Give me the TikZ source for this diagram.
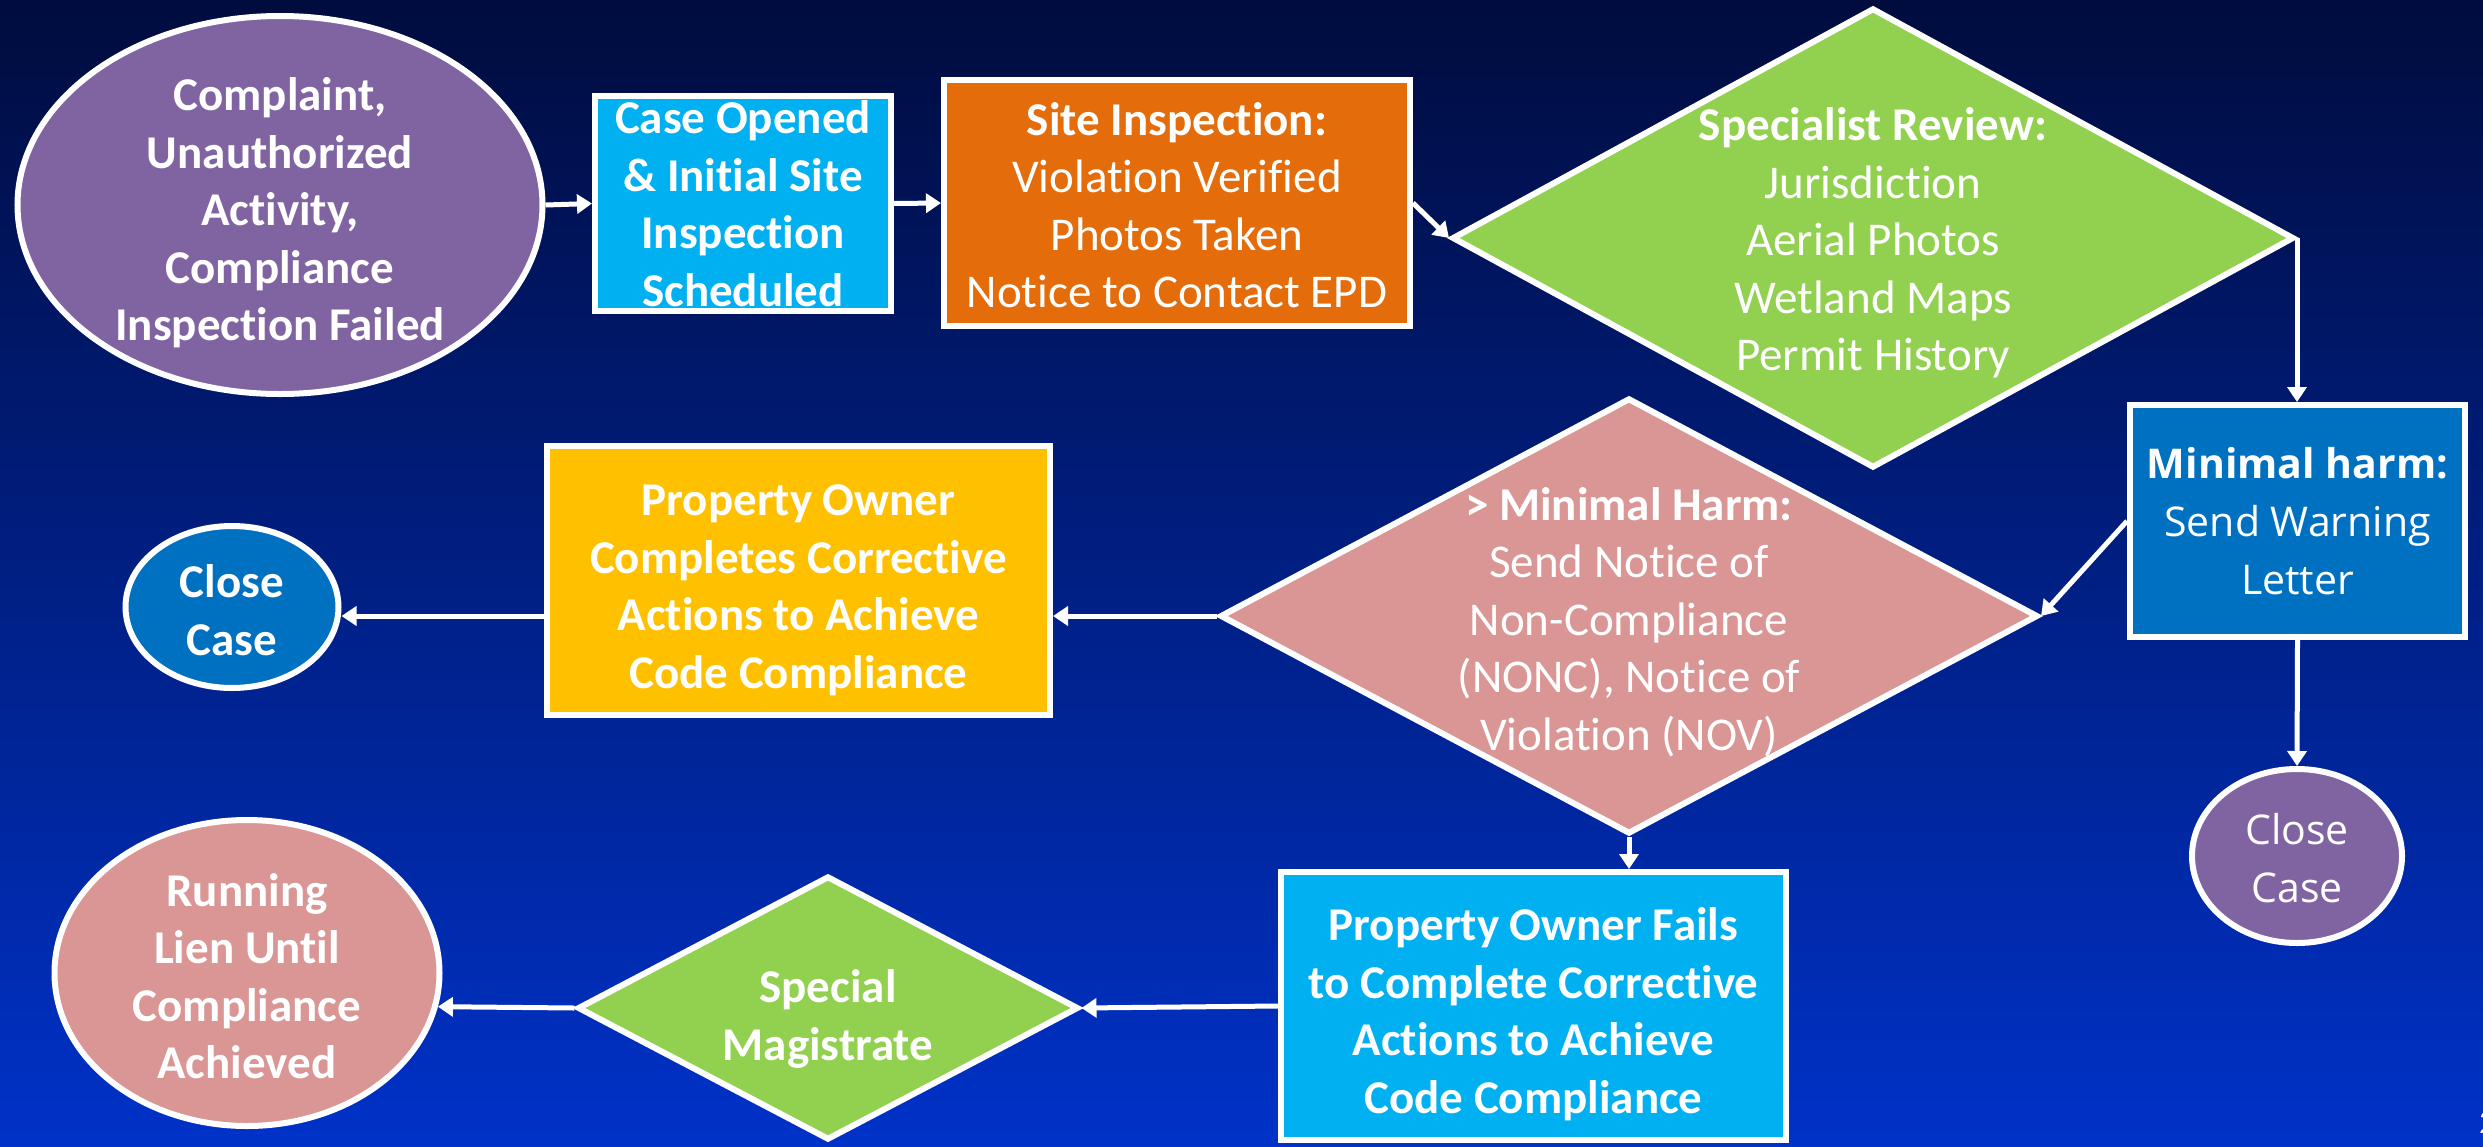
\documentclass[tikz,border=0pt]{standalone}
\usepackage{fontspec}
\setmainfont{Carlito}[Ligatures={NoCommon},RawFeature={-liga;-clig}]
\newfontfamily\osans{Open Sans}
\usetikzlibrary{shapes.geometric,arrows.meta}
\definecolor{cpurple}{HTML}{8064A2}
\definecolor{ccyan}{HTML}{00B0F0}
\definecolor{corange}{HTML}{E46C0A}
\definecolor{cgreen}{HTML}{92D050}
\definecolor{cblue}{HTML}{0070C0}
\definecolor{cpink}{HTML}{D99694}
\definecolor{cyellow}{HTML}{FFC000}
\definecolor{bgtop}{RGB}{0,12,62}
\definecolor{bgmid}{RGB}{0,34,148}
\definecolor{bgbot}{RGB}{0,50,200}
\begin{document}
\begin{tikzpicture}[x=1pt,y=-1pt,
  shp/.style={draw=white,line width=6pt,inner sep=0pt},
  boxs/.style={shp,rectangle},
  ells/.style={shp,ellipse},
  dias/.style={shp,diamond},
  txt/.style={text=white,align=center,inner sep=0pt,font=\fontsize{47}{57.5}\selectfont},
  btxt/.style={txt,font=\bfseries\fontsize{47}{57.5}\selectfont},
  otxt/.style={text=white,align=center,inner sep=0pt,font=\osans\fontsize{41}{58}\selectfont},
  arr/.style={draw=white,line width=5pt,-{Triangle[width=19pt,length=15pt]}}]
\useasboundingbox (0,0) rectangle (2483,1146);
\shade[top color=bgtop,middle color=bgmid,bottom color=bgbot] (0,0) rectangle (2483,1146);

% shapes
\node[ells,fill=cpurple,minimum width=525pt,minimum height=378pt] (comp) at (280,205) {};
\node[boxs,fill=ccyan,minimum width=296pt,minimum height=215pt] (case) at (743,203.5) {};
\node[boxs,fill=corange,minimum width=466pt,minimum height=246pt] (site) at (1177,203) {};
\node[dias,fill=cgreen,minimum width=842pt,minimum height=460pt] (spec) at (1873,238) {};
\node[boxs,fill=cblue,minimum width=335pt,minimum height=232pt] (minh) at (2297.5,521) {};
\node[ells,fill=cpurple,minimum width=210pt,minimum height=174pt] (close2) at (2297,856) {};
\node[dias,fill=cpink,minimum width=818pt,minimum height=436pt] (harm) at (1629,616) {};
\node[boxs,fill=cyellow,minimum width=503pt,minimum height=269pt] (po) at (798.5,580.5) {};
\node[ells,fill=cblue,minimum width=213pt,minimum height=162pt] (close1) at (232,607) {};
\node[boxs,fill=ccyan,minimum width=505pt,minimum height=268pt] (fail) at (1533.5,1006) {};
\node[dias,fill=cgreen,minimum width=501pt,minimum height=264pt] (magi) at (828,1008) {};
\node[ells,fill=cpink,minimum width=385pt,minimum height=306pt] (lien) at (247,973) {};

% texts
\node[btxt] (compt) at ([yshift=-8pt]comp.center) {Complaint,\\Unauthorized\\Activity,\\Compliance\\Inspection Failed};
\node[btxt] (caset) at (case.center) {Case Opened\\\& Initial Site\\Inspection\\Scheduled};
\node[txt] (sitet) at ([yshift=-2pt]site.center) {\textbf{Site Inspection:}\\Violation Verified\\Photos Taken\\Notice to Contact EPD};
\node[txt] (spect) at ([yshift=-5pt]spec.center) {\textbf{Specialist Review:}\\Jurisdiction\\Aerial Photos\\Wetland Maps\\Permit History};
\node[otxt] (minht) at (minh.center) {\textbf{Minimal harm:}\\Send Warning\\Letter};
\node[otxt] (close2t) at ([yshift=-2pt]close2.center) {Close\\Case};
\node[txt] (harmt) at ([yshift=-6pt]harm.center) {\textbf{> Minimal Harm:}\\Send Notice of\\Non-Compliance\\(NONC), Notice of\\Violation (NOV)};
\node[btxt] (pot) at ([yshift=-10pt]po.center) {Property Owner\\Completes Corrective\\Actions to Achieve\\Code Compliance};
\node[btxt] (close1t) at ([yshift=-3pt]close1.center) {Close\\Case};
\node[btxt] (failt) at ([yshift=-8pt]fail.center) {Property Owner Fails\\to Complete Corrective\\Actions to Achieve\\Code Compliance};
\node[btxt] (magit) at ([yshift=-11pt]magi.center) {Special\\Magistrate};
\node[btxt] (lient) at ([yshift=-3pt]lien.center) {Running\\Lien Until\\Compliance\\Achieved};
\node[text=white,inner sep=0pt,anchor=south west,font=\fontsize{34}{40}\selectfont] (slnum) at (2479,1134) {2};

% connectors
\draw[arr] (comp.east) -- (case.west);
\draw[arr] (case.east) -- (site.west);
\draw[arr] (site.east) -- (spec.west);
\draw[arr] (spec.east) -- (spec.east |- minh.north);
\draw[arr] (minh.west) -- (harm.east);
\draw[arr] (minh.south) -- (close2.north);
\draw[arr] (harm.west) -- (harm.west -| po.east);
\draw[arr] (harm.west -| po.west) -- (harm.west -| close1.east);
\draw[arr] (harm.south) -- (harm.south |- fail.north);
\draw[arr] (fail.west) -- (magi.east);
\draw[arr] (magi.west) -- (lien.-10);
\end{tikzpicture}
\end{document}
